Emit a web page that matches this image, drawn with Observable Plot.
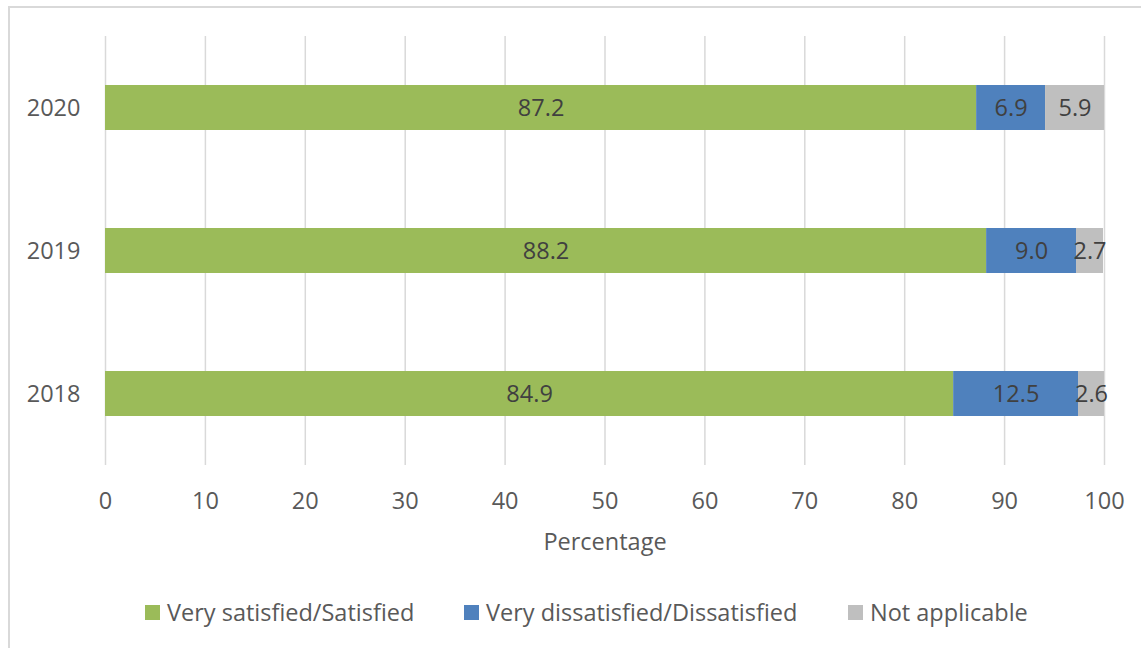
<!DOCTYPE html>
<html>
<head>
<meta charset="utf-8">
<script src="https://cdn.jsdelivr.net/npm/d3@7"></script>
<script src="https://cdn.jsdelivr.net/npm/@observablehq/plot@0.6"></script>
<style>
  html, body { margin: 0; padding: 0; background: #fff; overflow: hidden; width: 1141px; height: 648px; }
  #frame { position: absolute; left: 8px; top: 6px; width: 1200px; height: 700px; border: 2px solid #D9D9D9; box-sizing: border-box; pointer-events: none; }
  #chart { position: absolute; left: 0; top: 0; }
  #legend { position: absolute; left: 0; top: 580px; width: 1141px; height: 68px; font-family: "Open Sans", sans-serif; font-size: 23.5px; color: #595959; }
  .item { position: absolute; top: 16px; display: flex; align-items: center; white-space: nowrap; }
  .sw { width: 15px; height: 15px; margin-right: 7px; }
</style>
</head>
<body>
<div id="chart"></div>
<div id="legend"></div>
<div id="frame"></div>
<script>
const years = ["2020", "2019", "2018"];
const satisfied = [87.2, 88.2, 84.9];
const dissatisfied = [6.9, 9.0, 12.5];
const notApplicable = [5.9, 2.7, 2.6];
const categories = ["Very satisfied/Satisfied", "Very dissatisfied/Dissatisfied", "Not applicable"];
const colors = ["#9BBB59", "#4F81BD", "#BFBFBF"];
const xTicks = [0, 10, 20, 30, 40, 50, 60, 70, 80, 90, 100];
const legendX = [145, 464, 848];

const series = [satisfied, dissatisfied, notApplicable];
const data = [];
years.forEach((year, i) => {
  categories.forEach((cat, j) => {
    data.push({year, cat, value: series[j][i]});
  });
});

const FS = 23.5;
const chart = Plot.plot({
  width: 1141,
  height: 580,
  marginTop: 36,
  marginBottom: 115,
  marginLeft: 105,
  marginRight: 37,
  style: {fontFamily: "'Open Sans', sans-serif", fontSize: FS + "px", color: "#595959", background: "transparent"},
  x: {domain: [0, 100]},
  y: {domain: years, paddingInner: 0.685, paddingOuter: 0.3425},
  color: {domain: categories, range: colors},
  marks: [
    Plot.gridX(xTicks, {stroke: "#D9D9D9", strokeOpacity: 1, strokeWidth: 1.5}),
    Plot.barX(data, Plot.stackX({x: "value", y: "year", fill: "cat"})),
    Plot.text(data, Plot.stackX({x: "value", y: "year", text: d => d.value.toFixed(1), fill: "#404040", fontSize: FS})),
    Plot.axisX(xTicks, {tickSize: 0, tickPadding: 26.5, label: null, fontSize: FS}),
    Plot.axisY({tickSize: 0, tickPadding: 25, label: null, fontSize: FS}),
    Plot.text(["Percentage"], {text: d => d, frameAnchor: "bottom", lineAnchor: "middle", dy: 77, fontSize: FS, fill: "#595959"})
  ]
});
document.getElementById("chart").appendChild(chart);

const legend = document.getElementById("legend");
categories.forEach((cat, j) => {
  const item = document.createElement("div");
  item.className = "item";
  item.style.left = legendX[j] + "px";
  const sw = document.createElement("span");
  sw.className = "sw";
  sw.style.background = colors[j];
  const label = document.createElement("span");
  label.textContent = cat;
  item.appendChild(sw);
  item.appendChild(label);
  legend.appendChild(item);
});
</script>
</body>
</html>
